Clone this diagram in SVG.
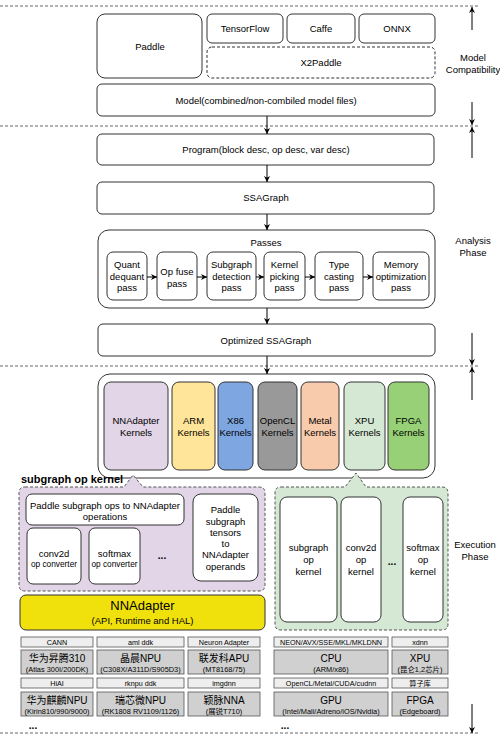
<svg xmlns="http://www.w3.org/2000/svg" width="500" height="741" viewBox="0 0 500 741">
<defs>
<marker id="arr" viewBox="0 0 10 10" refX="10" refY="5" markerWidth="6" markerHeight="6" markerUnits="userSpaceOnUse" orient="auto">
<path d="M0,0 L10,5 L0,10 L3,5 Z" fill="#000"/>
</marker>
<style>
text{font-family:"Liberation Sans","Noto Sans CJK SC",Arial,sans-serif;fill:#000;text-anchor:middle}
.t{font-size:9.5px}
.sm{font-size:8.3px}
.lb{font-size:7.2px}
.xs{font-size:7.4px}
.md{font-size:10px}
.bd{font-weight:bold}
.box{fill:#fff;stroke:#333;stroke-width:1}
.dbox{fill:#fff;stroke:#333;stroke-width:1;stroke-dasharray:3,2}
.sep{stroke:#666;stroke-width:1;stroke-dasharray:3,2;fill:none}
.k{stroke:#333;stroke-width:1}
.lab{fill:#eeeeee;stroke:#555;stroke-width:0.8}
.hw{fill:#d0d0d0;stroke:#555;stroke-width:0.8}
.c{stroke:#000;stroke-width:1;fill:none;marker-end:url(#arr)}
</style>
</defs>
<rect width="500" height="741" fill="#fff"/>

<g id="separators">
<line class="sep" x1="0" y1="6" x2="478" y2="6"/>
<line class="sep" x1="0" y1="126" x2="478" y2="126"/>
<line class="sep" x1="0" y1="366" x2="478" y2="366"/>
<line class="sep" x1="0" y1="733" x2="478" y2="733"/>
</g>

<g id="phase-labels">
<text class="t" x="473" y="61">Model</text>
<text class="t" x="473" y="73">Compatibility</text>
<text class="t" x="473" y="244">Analysis</text>
<text class="t" x="473" y="256">Phase</text>
<text class="t" x="475" y="548">Execution</text>
<text class="t" x="475" y="560">Phase</text>
</g>

<g id="node-paddle"><rect class="box" x="97" y="14" width="105" height="64" rx="8"/><text class="t" x="150" y="49.5">Paddle</text></g>
<g id="node-tensorflow"><rect class="box" x="207" y="14" width="76" height="29" rx="5"/><text class="t" x="245" y="32">TensorFlow</text></g>
<g id="node-caffe"><rect class="box" x="287" y="14" width="68" height="29" rx="5"/><text class="t" x="321" y="32">Caffe</text></g>
<g id="node-onnx"><rect class="box" x="359" y="14" width="76" height="29" rx="5"/><text class="t" x="397" y="32">ONNX</text></g>
<g id="node-x2paddle"><rect class="dbox" x="207" y="47" width="228" height="31" rx="5"/><text class="t" x="321" y="66">X2Paddle</text></g>
<g id="node-model"><rect class="box" x="97" y="84" width="338" height="32" rx="5"/><text class="t" x="266" y="103.5">Model(combined/non-combiled model files)</text></g>
<g id="node-program"><rect class="box" x="97" y="134" width="337" height="31" rx="5"/><text class="t" x="266" y="153">Program(block desc, op desc, var desc)</text></g>
<g id="node-ssagraph"><rect class="box" x="97" y="182" width="337" height="32" rx="5"/><text class="t" x="266" y="201">SSAGraph</text></g>

<g id="node-passes">
<rect class="box" x="98" y="230" width="337" height="78" rx="11"/>
<text class="t" x="266" y="246">Passes</text>
</g>
<g id="node-pass-quant"><rect class="box" x="107" y="252" width="40" height="48" rx="6"/><text class="t" x="127" y="268.3">Quant</text><text class="t" x="127" y="279.8">dequant</text><text class="t" x="127" y="291.3">pass</text></g>
<g id="node-pass-opfuse"><rect class="box" x="157" y="252" width="40" height="48" rx="6"/><text class="t" x="177" y="275">Op fuse</text><text class="t" x="177" y="286.5">pass</text></g>
<g id="node-pass-subgraph"><rect class="box" x="207" y="252" width="49" height="48" rx="6"/><text class="t" x="231.5" y="268.3">Subgraph</text><text class="t" x="231.5" y="279.8">detection</text><text class="t" x="231.5" y="291.3">pass</text></g>
<g id="node-pass-kernel"><rect class="box" x="264" y="252" width="41" height="48" rx="6"/><text class="t" x="284.5" y="268.3">Kernel</text><text class="t" x="284.5" y="279.8">picking</text><text class="t" x="284.5" y="291.3">pass</text></g>
<g id="node-pass-type"><rect class="box" x="315" y="252" width="48" height="48" rx="6"/><text class="t" x="339" y="268.3">Type</text><text class="t" x="339" y="279.8">casting</text><text class="t" x="339" y="291.3">pass</text></g>
<g id="node-pass-memory"><rect class="box" x="373" y="252" width="56" height="48" rx="6"/><text class="t" x="401" y="268.3">Memory</text><text class="t" x="401" y="279.8">optimization</text><text class="t" x="401" y="291.3">pass</text></g>

<g id="node-optimized"><rect class="box" x="98" y="324" width="337" height="32" rx="5"/><text class="t" x="266" y="344">Optimized SSAGraph</text></g>

<g id="node-kernels">
<rect class="box" x="98" y="374" width="337" height="104" rx="12"/>
</g>
<g id="node-k-nnadapter"><rect class="k" fill="#e1d5e7" x="104" y="382" width="64" height="88" rx="7"/><text class="t" x="136" y="423.5">NNAdapter</text><text class="t" x="136" y="435.5">Kernels</text></g>
<g id="node-k-arm"><rect class="k" fill="#ffe599" x="172" y="382" width="43" height="88" rx="7"/><text class="t" x="193.5" y="423.5">ARM</text><text class="t" x="193.5" y="435.5">Kernels</text></g>
<g id="node-k-x86"><rect class="k" fill="#7ea6e0" x="218" y="382" width="35" height="88" rx="7"/><text class="t" x="235.5" y="423.5">X86</text><text class="t" x="235.5" y="435.5">Kernels</text></g>
<g id="node-k-opencl"><rect class="k" fill="#999999" x="258" y="382" width="39" height="88" rx="7"/><text class="t" x="277.5" y="423.5">OpenCL</text><text class="t" x="277.5" y="435.5">Kernels</text></g>
<g id="node-k-metal"><rect class="k" fill="#f8cbad" x="301" y="382" width="38" height="88" rx="7"/><text class="t" x="320" y="423.5">Metal</text><text class="t" x="320" y="435.5">Kernels</text></g>
<g id="node-k-xpu"><rect class="k" fill="#d5e8d4" x="344" y="382" width="41" height="88" rx="7"/><text class="t" x="364.5" y="423.5">XPU</text><text class="t" x="364.5" y="435.5">Kernels</text></g>
<g id="node-k-fpga"><rect class="k" fill="#97d077" x="388" y="382" width="41" height="88" rx="7"/><text class="t" x="408.5" y="423.5">FPGA</text><text class="t" x="408.5" y="435.5">Kernels</text></g>

<g id="node-subgraph-op-kernel">
<path d="M25,487 H124 L133,475 L143,487 H259 Q265,487 265,493 V585 Q265,591 259,591 H25 Q19,591 19,585 V493 Q19,487 25,487 Z" fill="#e1d5e7" stroke="#555" stroke-width="1" stroke-dasharray="3,2"/>
<text class="bd" x="21" y="483" style="font-size:11px;text-anchor:start">subgraph op kernel</text>
</g>
<g id="node-paddle-ops"><rect class="box" x="26" y="494" width="158" height="31" rx="6"/><text class="t" x="105" y="508.5">Paddle subgraph ops to NNAdapter</text><text class="t" x="105" y="519.5">operations</text></g>
<g id="node-conv2d-conv"><rect class="box" x="27" y="528" width="54" height="56" rx="6"/><text class="t" x="54" y="556.5">conv2d</text><text class="sm" x="54" y="567">op converter</text></g>
<g id="node-softmax-conv"><rect class="box" x="89" y="528" width="51" height="56" rx="6"/><text class="t" x="114.5" y="556.5">softmax</text><text class="sm" x="114.5" y="567">op converter</text></g>
<text class="md bd" x="162" y="559">...</text>
<g id="node-paddle-tensors"><rect class="box" x="193" y="494" width="65" height="87" rx="8"/>
<text class="t" x="225.5" y="513">Paddle</text><text class="t" x="225.5" y="524.5">subgraph</text><text class="t" x="225.5" y="535.8">tensors</text><text class="t" x="225.5" y="547">to</text><text class="t" x="225.5" y="558.3">NNAdapter</text><text class="t" x="225.5" y="569.5">operands</text></g>

<g id="node-nnadapter"><rect x="20" y="595" width="245" height="35" rx="6" fill="#f0e10c" stroke="#333" stroke-width="1"/><text x="142.5" y="610" style="font-size:13px">NNAdapter</text><text class="t" x="142.5" y="623.5">(API, Runtime and HAL)</text></g>

<g id="node-xpu-detail">
<path d="M281,487 H345 L356,473 L366,487 H442 Q448,487 448,493 V624 Q448,630 442,630 H281 Q275,630 275,624 V493 Q275,487 281,487 Z" fill="#d5e8d4" stroke="#555" stroke-width="1" stroke-dasharray="3,2"/>
</g>
<g id="node-subgraph-kernel"><rect class="box" x="280" y="497" width="57" height="125" rx="7"/><text class="t" x="308.5" y="551">subgraph</text><text class="t" x="308.5" y="563">op</text><text class="t" x="308.5" y="575">kernel</text></g>
<g id="node-conv2d-kernel"><rect class="box" x="341" y="497" width="40" height="125" rx="7"/><text class="t" x="361" y="551">conv2d</text><text class="t" x="361" y="563">op</text><text class="t" x="361" y="575">kernel</text></g>
<text class="md bd" x="392" y="565">...</text>
<g id="node-softmax-kernel"><rect class="box" x="403" y="497" width="40" height="125" rx="7"/><text class="t" x="423" y="551">softmax</text><text class="t" x="423" y="563">op</text><text class="t" x="423" y="575">kernel</text></g>

<g id="node-hw-cann"><rect class="lab" x="21" y="637" width="72" height="10"/><text class="lb" x="57" y="644.5">CANN</text>
<rect class="hw" x="21" y="650" width="72" height="24"/><text class="md" x="57" y="661.5">华为昇腾310</text><text class="xs" x="57" y="671.5">(Atlas 300I/200DK)</text></g>
<g id="node-hw-aml"><rect class="lab" x="97" y="637" width="87" height="10"/><text class="lb" x="140.5" y="644.5">aml ddk</text>
<rect class="hw" x="97" y="650" width="87" height="24"/><text class="md" x="140.5" y="661.5">晶晨NPU</text><text class="xs" x="140.5" y="671.5">(C308X/A311D/S905D3)</text></g>
<g id="node-hw-neuron"><rect class="lab" x="188" y="637" width="72" height="10"/><text class="lb" x="224" y="644.5">Neuron Adapter</text>
<rect class="hw" x="188" y="650" width="72" height="24"/><text class="md" x="224" y="661.5">联发科APU</text><text class="xs" x="224" y="671.5">(MT8168/75)</text></g>
<g id="node-hw-hiai"><rect class="lab" x="21" y="678" width="72" height="10"/><text class="lb" x="57" y="685.5">HiAI</text>
<rect class="hw" x="21" y="692" width="72" height="24"/><text class="md" x="57" y="703.5">华为麒麟NPU</text><text class="xs" x="57" y="713.5">(Kirin810/990/9000)</text></g>
<g id="node-hw-rknpu"><rect class="lab" x="97" y="678" width="87" height="10"/><text class="lb" x="140.5" y="685.5">rknpu ddk</text>
<rect class="hw" x="97" y="692" width="87" height="24"/><text class="md" x="140.5" y="703.5">瑞芯微NPU</text><text class="xs" x="140.5" y="713.5">(RK1808 RV1109/1126)</text></g>
<g id="node-hw-imgdnn"><rect class="lab" x="188" y="678" width="72" height="10"/><text class="lb" x="224" y="685.5">imgdnn</text>
<rect class="hw" x="188" y="692" width="72" height="24"/><text class="md" x="224" y="703.5">颖脉NNA</text><text class="xs" x="224" y="713.5">(展锐T710)</text></g>
<g id="node-hw-cpu"><rect class="lab" x="274" y="637" width="114" height="10"/><text class="lb" x="331" y="644.5">NEON/AVX/SSE/MKL/MKLDNN</text>
<rect class="hw" x="274" y="650" width="114" height="24"/><text class="md" x="331" y="661.5">CPU</text><text class="xs" x="331" y="671.5">(ARM/x86)</text></g>
<g id="node-hw-xpu"><rect class="lab" x="392" y="637" width="56" height="10"/><text class="lb" x="420" y="644.5">xdnn</text>
<rect class="hw" x="392" y="650" width="56" height="24"/><text class="md" x="420" y="661.5">XPU</text><text class="xs" x="420" y="671.5">(昆仑1,2芯片)</text></g>
<g id="node-hw-gpu"><rect class="lab" x="274" y="678" width="114" height="10"/><text class="lb" x="331" y="685.5">OpenCL/Metal/CUDA/cudnn</text>
<rect class="hw" x="274" y="692" width="114" height="24"/><text class="md" x="331" y="703.5">GPU</text><text class="xs" x="331" y="713.5">(Intel/Mali/Adreno/iOS/Nvidia)</text></g>
<g id="node-hw-fpga"><rect class="lab" x="392" y="678" width="56" height="10"/><text class="lb" x="420" y="685.5">算子库</text>
<rect class="hw" x="392" y="692" width="56" height="24"/><text class="md" x="420" y="703.5">FPGA</text><text class="xs" x="420" y="713.5">(Edgeboard)</text></g>
<text class="md bd" x="33" y="729">...</text>
<text class="md bd" x="285" y="729">...</text>

<g id="connectors">
<line class="c" x1="267" y1="116" x2="267" y2="134"/>
<line class="c" x1="267" y1="165" x2="267" y2="182"/>
<line class="c" x1="267" y1="214" x2="267" y2="230"/>
<line class="c" x1="267" y1="308" x2="267" y2="324"/>
<line class="c" x1="267" y1="356" x2="267" y2="374"/>
<line class="c" x1="147" y1="277" x2="157" y2="277"/>
<line class="c" x1="197" y1="277" x2="207" y2="277"/>
<line class="c" x1="256" y1="277" x2="264" y2="277"/>
<line class="c" x1="305" y1="277" x2="315" y2="277"/>
<line class="c" x1="363" y1="277" x2="373" y2="277"/>
<line class="c" x1="472" y1="30" x2="472" y2="7"/>
<line class="c" x1="472" y1="102" x2="472" y2="125"/>
<line class="c" x1="472" y1="158" x2="472" y2="127"/>
<line class="c" x1="472" y1="333" x2="472" y2="365"/>
<line class="c" x1="472" y1="400" x2="472" y2="367"/>
<line class="c" x1="472" y1="704" x2="472" y2="733"/>
</g>
</svg>
